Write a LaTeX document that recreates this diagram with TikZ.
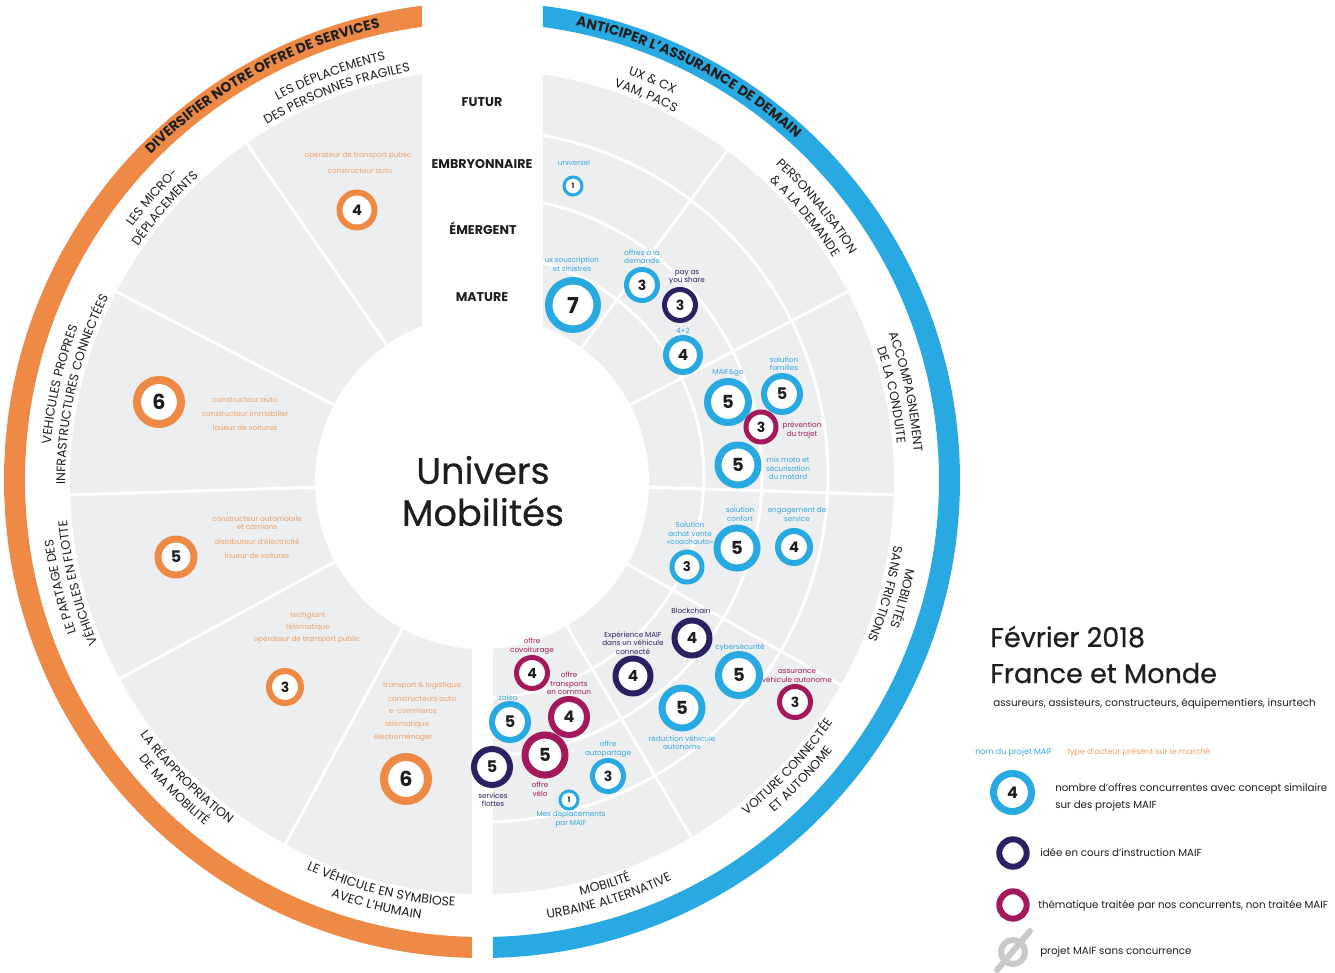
\documentclass[tikz,border=0pt]{standalone}
\usepackage{fontspec}
\setmainfont{Poppins}
\newfontface\medface[FakeBold=0.5]{Poppins}
\usetikzlibrary{decorations.text}
\definecolor{cblue}{HTML}{29A9E1}
\definecolor{cnavy}{HTML}{2A2162}
\definecolor{cmag}{HTML}{A3195B}
\definecolor{corange}{HTML}{EE8A45}
\definecolor{corangetxt}{HTML}{F0A064}
\definecolor{cbluetxt}{HTML}{35A8DE}
\definecolor{cgrey}{HTML}{EDEEEF}
\definecolor{ctxt}{HTML}{1E1E1E}
\definecolor{cslash}{HTML}{C9C9C9}
\newcommand\catf{\fontsize{9.4}{9.4}\selectfont\color{ctxt}}
\newcommand\titf{\fontsize{10.4}{10.4}\selectfont\bfseries\color{ctxt}}
\newcommand\labf{\fontsize{5.4}{6.4}\selectfont}
\newcommand\cwlab[3]{\path[decorate,decoration={text along path,text align=center,text={|\catf|#3}}] ({#1+35}:#2) arc[start angle={#1+35},end angle={#1-35},radius=#2];}
\newcommand\ccwlab[3]{\path[decorate,decoration={text along path,text align=center,text={|\catf|#3}}] ({#1-35}:#2) arc[start angle={#1-35},end angle={#1+35},radius=#2];}
\newcommand\bub[8]{\node[circle,draw=#6,fill=white,line width={#5*0.75pt},minimum size={(2*#4-#5)*0.75pt},inner sep=0pt,font=\bfseries\fontsize{#8}{#8}\selectfont,text=ctxt] (#1) at (#2,-#3) {#7};}
\newcommand\lab[5]{\node[font=\labf,text=#4,align=center,inner sep=0pt] (#1) at (#2,-#3) {#5};}
\begin{document}
\begin{tikzpicture}[x=0.75pt,y=0.75pt,
  divline/.style={white,line width=2.25pt},
  matlab/.style={font=\bfseries\fontsize{9.5}{9.5}\selectfont,text=ctxt,inner sep=0pt},
  legtext/.style={anchor=west,font=\fontsize{7.7}{7.7}\selectfont,text=ctxt,inner sep=0pt},
  legring/.style={circle,draw=#1,line width=4.5pt,minimum size={(2*16.7-6)*0.75pt},inner sep=0pt}]
\useasboundingbox (-482,-490) rectangle (853,482);
\fill[white] (-482,-490) rectangle (853,482);
% left half
\begin{scope}
\clip (-60,600) -- (-60,0) -- (-10,0) -- (-10,-600) -- (-600,-600) -- (-600,600) -- cycle;
\fill[cgrey] (0,0) circle (412);
\fill[corange,even odd rule] (0,2) circle (478) (0,2) circle (457);
\foreach \a in {124.8,152.5,181.8,208.5,241.5} \draw[divline] (\a:150) -- (\a:414);
\end{scope}
% right half
\begin{scope}
\clip (61,600) -- (61,0) -- (11,0) -- (11,-600) -- (600,-600) -- (600,600) -- cycle;
\fill[cgrey] (0,0) circle (412);
\fill[cblue,even odd rule] (0,2) circle (478) (0,2) circle (457);
\begin{scope}
\clip (0,0) circle (412);
\draw[divline] (0,6) circle (222) (0,6) circle (280) (0,6) circle (346);
\end{scope}
\foreach \a in {53.5,27.5,-1.8,-29.5,-59.5} \draw[divline] (\a:150) -- (\a:414);
\end{scope}
\fill[white] (0,0) circle (167);
% titles on bands
\path[decorate,decoration={text along path,text align=center,text={|\titf|DIVERSIFIER NOTRE OFFRE DE SERVICES}}] (154:465.5) arc[start angle=154,end angle=84,radius=465.5];
\path[decorate,decoration={text along path,text align=center,text={|\titf|ANTICIPER L’ASSURANCE DE DEMAIN}}] (98:465.5) arc[start angle=98,end angle=28,radius=465.5];
% category labels
\cwlab{110.5}{432.8}{LES DÉPLACEMENTS}
\cwlab{110.5}{416.8}{DES PERSONNES FRAGILES}
\cwlab{139.2}{432.8}{LES MICRO-}
\cwlab{139.2}{416.8}{DÉPLACEMENTS}
\cwlab{167}{432.8}{VEHICULES PROPRES}
\cwlab{167}{416.8}{INFRASTRUCTURES CONNECTÉES}
\cwlab{194}{432.8}{LE PARTAGE DES}
\cwlab{194}{416.8}{VÉHICULES EN FLOTTE}
\ccwlab{225}{425.2}{LA RÉAPPROPRIATION}
\ccwlab{225}{441.2}{DE MA MOBILITÉ}
\ccwlab{256}{425.2}{LE VÉHICULE EN SYMBIOSE}
\ccwlab{256}{441.2}{AVEC L’HUMAIN}
\cwlab{67}{432.8}{UX {\&} CX}
\cwlab{67}{416.8}{VAM, PACS}
\cwlab{39.5}{432.8}{PERSONNALISATION}
\cwlab{39.5}{416.8}{{\&} A LA DEMANDE}
\cwlab{12}{432.8}{ACCOMPAGNEMENT}
\cwlab{12}{416.8}{DE LA CONDUITE}
\cwlab{-15.5}{432.8}{MOBILITÉS}
\cwlab{-15.5}{416.8}{SANS FRICTIONS}
\ccwlab{-43}{425.2}{VOITURE CONNECTÉE}
\ccwlab{-43}{441.2}{ET AUTONOME}
\ccwlab{-73}{425.2}{MOBILITÉ}
\ccwlab{-73}{441.2}{URBAINE ALTERNATIVE}
\begin{scope}[shift={(-482,482)}]
% center
\node[font=\medface\fontsize{27.5}{31.5}\selectfont,text=ctxt,align=center,inner sep=0pt] (univ) at (483,-491) {Univers\\Mobilités};
% maturity
\node[matlab] (mfut) at (482,-102) {FUTUR};
\node[matlab] (memb) at (482,-164) {EMBRYONNAIRE};
\node[matlab] (meme) at (483,-228) {ÉMERGENT};
\node[matlab] (mmat) at (482,-297) {MATURE};
% orange labels
\lab{t1}{358}{156}{corangetxt}{opérateur de transport public}
\lab{t2}{360}{171}{corangetxt}{constructeur auto}
\lab{t3}{245}{399.7}{corangetxt}{constructeur auto}
\lab{t4}{245}{413.3}{corangetxt}{constructeur immobilier}
\lab{t5}{245}{427.3}{corangetxt}{loueur de voitures}
\lab{t6}{257}{523}{corangetxt}{constructeur automobile\\et camions}
\lab{t7}{257}{542}{corangetxt}{distributeur d’électricité}
\lab{t8}{257}{556}{corangetxt}{loueur de voitures}
\lab{t9}{308}{616}{corangetxt}{techgiant}
\lab{t10}{308}{628}{corangetxt}{télématique}
\lab{t11}{307}{640}{corangetxt}{opérateur de transport public}
\lab{t12}{422}{686}{corangetxt}{transport \& logistique}
\lab{t13}{422}{699}{corangetxt}{constructeurs auto}
\lab{t14}{413}{712}{corangetxt}{e-commerce}
\lab{t15}{407}{725}{corangetxt}{télématique}
\lab{t16}{403}{738}{corangetxt}{électroménager}
% right labels
\lab{r1}{574}{163}{cbluetxt}{universel}
\lab{r2}{572}{264.5}{cbluetxt}{ux souscription\\et sinistres}
\lab{r3}{642}{256.7}{cbluetxt}{offres à la\\demande}
\lab{r4}{687}{277.5}{cnavy}{pay as\\you share}
\lab{r5}{683}{331}{cbluetxt}{4+2}
\lab{r6}{728}{373}{cbluetxt}{MAIF\&go}
\lab{r7}{784}{364}{cbluetxt}{solution\\familles}
\lab{r8}{802}{430}{cmag}{prévention\\du trajet}
\lab{r9}{788}{468.3}{cbluetxt}{mix moto et\\sécurisation\\du motard}
\lab{r10}{740}{514.3}{cbluetxt}{solution\\confort}
\lab{r11}{797}{514.3}{cbluetxt}{engagement de\\service}
\lab{r12}{690}{533.7}{cbluetxt}{Solution\\achat vente\\«coachauto»}
\lab{r13}{691}{611}{cnavy}{Blockchain}
\lab{r14}{633}{642.8}{cnavy}{Expérience MAIF\\dans un véhicule\\connecté}
\lab{r15}{740}{647.7}{cbluetxt}{cybersécurité}
\lab{r16}{797}{676}{cmag}{assurance\\véhicule autonome}
\lab{r17}{682}{742.7}{cbluetxt}{réduction véhicule\\autonome}
\lab{r18}{532}{646}{cmag}{offre\\covoiturage}
\lab{r19}{569}{683.7}{cmag}{offre\\transports\\en commun}
\lab{r20}{508}{697.3}{cbluetxt}{zaléo}
\lab{r21}{540}{789.5}{cmag}{offre\\vélo}
\lab{r22}{493}{800}{cnavy}{services\\flottes}
\lab{r23}{608}{749}{cbluetxt}{offre\\autopartage}
\lab{r24}{571}{819}{cbluetxt}{Mes déplacements\\par MAIF}
% bubbles
\bub{o1}{357}{210}{20.5}{6}{corange}{4}{11}
\bub{o2}{159}{402}{26}{8}{corange}{6}{15.5}
\bub{o3}{176}{557}{21.5}{7}{corange}{5}{12}
\bub{o4}{285}{687}{19}{6}{corange}{3}{10.5}
\bub{o5}{406}{779}{26}{8}{corange}{6}{15.5}
\bub{b1}{573}{186}{10.5}{3}{cblue}{1}{5.5}
\bub{b2}{573}{305}{28}{7.5}{cblue}{7}{16.5}
\bub{b3}{642}{285}{18}{5}{cblue}{3}{10.5}
\bub{n1}{680}{305}{18}{5}{cnavy}{3}{10.5}
\bub{b4}{683}{355}{20}{6}{cblue}{4}{11.5}
\bub{b5}{728}{402}{24}{7}{cblue}{5}{13.5}
\bub{b6}{782}{394}{21}{6}{cblue}{5}{12}
\bub{m1}{761}{427}{17.5}{5}{cmag}{3}{10.5}
\bub{b7}{738}{465}{23.5}{7}{cblue}{5}{13.5}
\bub{b8}{737}{548}{23.5}{7}{cblue}{5}{13.5}
\bub{b9}{794}{547}{19}{6}{cblue}{4}{11}
\bub{b10}{687}{567}{17.5}{5}{cblue}{3}{10}
\bub{n2}{692}{638}{20.5}{6}{cnavy}{4}{11.5}
\bub{n3}{633}{676}{20.5}{6}{cnavy}{4}{11.5}
\bub{b11}{739}{675}{24}{7}{cblue}{5}{13.5}
\bub{m2}{795}{702}{18}{5}{cmag}{3}{10.5}
\bub{b12}{682}{708}{23.5}{7}{cblue}{5}{13.5}
\bub{m3}{532}{673}{18}{5}{cmag}{4}{10.5}
\bub{m4}{569}{717}{21}{6}{cmag}{4}{12}
\bub{b13}{510}{722}{21}{6}{cblue}{5}{12}
\bub{m5}{545}{755}{23.5}{7}{cmag}{5}{13.5}
\bub{n4}{492}{767}{21}{6}{cnavy}{5}{12}
\bub{b14}{608}{776}{18}{5}{cblue}{3}{10.5}
\bub{b15}{569}{800}{10.5}{3}{cblue}{1}{5.5}
% legend
\node[anchor=base west,font=\medface\fontsize{20.3}{20.3}\selectfont,text=ctxt,inner sep=0pt] (lgt1) at (990,-647) {Février 2018};
\node[anchor=base west,font=\medface\fontsize{20.3}{20.3}\selectfont,text=ctxt,inner sep=0pt] (lgt2) at (990,-683) {France et Monde};
\node[anchor=base west,font=\fontsize{7.75}{7.75}\selectfont,text=ctxt,inner sep=0pt] (lgt3) at (993,-706) {assureurs, assisteurs, constructeurs, équipementiers, insurtech};
\node[anchor=west,font=\fontsize{6}{6}\selectfont,text=cbluetxt,inner sep=0pt] (lgt4) at (975,-752) {nom du projet MAIF};
\node[anchor=west,font=\fontsize{6}{6}\selectfont,text=corangetxt,inner sep=0pt] (lgt5) at (1067,-752) {type d’acteur présent sur le marché};
\bub{lg1}{1012.5}{792.5}{22.5}{7}{cblue}{4}{12}
\node[legtext] (lgt6) at (1055,-789) {nombre d’offres concurrentes avec concept similaire};
\node[legtext] (lgt7) at (1055,-806) {sur des projets MAIF};
\node[legring=cnavy] (lg2) at (1013,-853) {};
\node[legtext] (lgt8) at (1040,-853) {idée en cours d’instruction MAIF};
\node[legring=cmag] (lg3) at (1013,-905) {};
\node[legtext] (lgt9) at (1038,-906) {thématique traitée par nos concurrents, non traitée MAIF};
\draw[cslash,line width=4.5pt] (1013,-952) circle (12);
\draw[cslash,line width=4.5pt,line cap=round] (997,-970) -- (1030,-931);
\node[legtext] (lgt10) at (1040,-952) {projet MAIF sans concurrence};
\end{scope}
\end{tikzpicture}
\end{document}
